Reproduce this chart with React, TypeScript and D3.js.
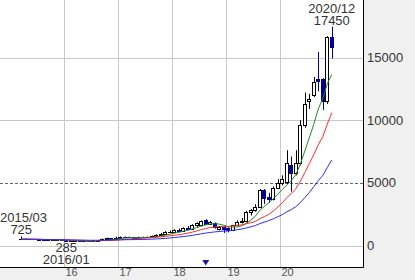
import React from 'react';
import * as d3 from 'd3';

// Monthly candles from 2015/03 to 2020/12
const START_YEAR = 2015;
const START_MONTH = 3;

const open = [
  500, 520, 500, 490, 480, 470, 440, 430, 440, 450,
  420, 330, 340, 360, 350, 360, 340, 370, 420, 520, 560, 520,
  620, 690, 640, 640, 620, 650, 640, 680, 760, 850, 950, 1050,
  1080, 1240, 1150, 1400, 1350, 1600, 1650, 2030, 1700, 1800, 1300, 1450,
  1400, 1200, 1600, 1900, 1950, 2650, 2800, 3100, 4400, 3900, 3700, 4600,
  5000, 5100, 6400, 5800, 6600, 9600, 11500, 12000, 13250, 13250, 11500, 16650,
];
const high = [
  725, 560, 530, 520, 510, 500, 470, 470, 480, 470,
  440, 380, 390, 400, 390, 380, 400, 450, 560, 620, 600, 700,
  720, 720, 700, 680, 700, 700, 720, 800, 900, 1000, 1150, 1200,
  1300, 1350, 1450, 1550, 1700, 1850, 2000, 2100, 1950, 1850, 1550, 1500,
  1450, 1650, 2000, 2200, 2750, 2900, 3300, 4500, 4500, 4200, 4700, 5300,
  5600, 7600, 7100, 7600, 10000, 12200, 12100, 13450, 15450, 13350, 16700, 17450,
];
const low = [
  430, 460, 460, 450, 440, 400, 400, 410, 420, 390,
  285, 300, 320, 330, 330, 310, 330, 350, 400, 490, 480, 500,
  580, 600, 600, 580, 600, 610, 620, 650, 730, 820, 900, 1000,
  1000, 1050, 1100, 1300, 1300, 1450, 1600, 1650, 1650, 1350, 1200, 1000,
  1050, 1200, 1550, 1750, 1850, 2400, 2700, 3000, 3300, 3400, 3600, 4500,
  4800, 4900, 4300, 5600, 6400, 9400, 10900, 11850, 12300, 10800, 11300, 14930,
];
const close = [
  510, 500, 490, 480, 470, 440, 430, 440, 450, 420,
  330, 340, 360, 350, 360, 340, 370, 420, 520, 560, 520, 620,
  690, 640, 640, 620, 650, 640, 680, 760, 850, 950, 1050, 1080,
  1240, 1150, 1400, 1350, 1650, 1800, 1970, 1700, 1850, 1450, 1450, 1300,
  1200, 1600, 1900, 1950, 2650, 2800, 3100, 4400, 3800, 3700, 4600, 5000,
  5300, 6580, 5800, 6600, 9600, 11300, 11650, 13050, 13150, 11550, 16650, 15850,
];

const maPeriods = [6, 12, 24];
const maColors = ['#1f8a1f', '#ff2a2a', '#2a2aff'];

const yTicks = [0, 5000, 10000, 15000];
const dashedTick = 5000;
const yearLabels = ['16', '17', '18', '19', '20'];

const annoHigh1 = { month: '2015/03', value: 725 };
const annoLow = { month: '2016/01', value: 285 };
const annoHigh2 = { month: '2020/12', value: 17450 };
const markerMonth = '2018/08';

const months = open.map((_, i) => {
  const t = START_MONTH - 1 + i;
  const yy = START_YEAR + Math.floor(t / 12);
  const mm = (t % 12) + 1;
  return `${yy}/${String(mm).padStart(2, '0')}`;
});

const W = 415;
const H = 280;
const PLOT_R = 363;
const PLOT_B = 267;
const FONT = 'Liberation Sans, Arial, sans-serif';
const BEAR = '#000099';

export default function App() {
  const offset = (12 * (2016 - START_YEAR)) - (START_MONTH - 1);
  const x = d3.scaleLinear().domain([0, 60]).range([64, 334]);
  const y = d3.scaleLinear().domain([0, 15000]).range([245.5, 57.5]);
  const cx = (i: number) => x(i - offset + 0.5);
  const idx = (m: string) => months.indexOf(m);

  const mas = maPeriods.map((p) =>
    close.map((_, i) => {
      const s = close.slice(Math.max(0, i - p + 1), i + 1);
      return d3.mean(s) as number;
    })
  );

  const line = d3
    .line<number>()
    .x((_, i) => cx(i))
    .y((d) => y(d));

  const crisp = (v: number) => Math.round(v) + 0.5;

  const i1 = idx(annoHigh1.month);
  const i2 = idx(annoLow.month);
  const i3 = idx(annoHigh2.month);
  const im = idx(markerMonth);

  return (
    <svg
      width={W}
      height={H}
      style={{ position: 'fixed', left: 0, top: 0, display: 'block' }}
      fontFamily={FONT}
    >
      <rect x={0} y={0} width={W} height={H} fill="#f0f0f0" />
      <rect x={0} y={0} width={PLOT_R} height={PLOT_B} fill="#ffffff" />

      {yearLabels.map((lab, k) => {
        const xv = crisp(x(k * 12));
        return (
          <g key={lab}>
            <line x1={xv} x2={xv} y1={0} y2={PLOT_B} stroke="#c8c8c8" />
            <text x={xv + 1} y={276} fontSize={11} fill="#555">
              {lab}
            </text>
          </g>
        );
      })}

      {yTicks.map((t) => {
        const yv = crisp(y(t));
        return (
          <g key={t}>
            {t === dashedTick ? (
              <line x1={0} x2={PLOT_R} y1={yv} y2={yv} stroke="#666" strokeDasharray="3,2" />
            ) : (
              <line x1={0} x2={PLOT_R} y1={yv} y2={yv} stroke="#c8c8c8" />
            )}
            <text x={367} y={y(t) + 4.5} fontSize={13} fill="#333">
              {t}
            </text>
          </g>
        );
      })}

      {open.map((o, i) => {
        const c = close[i];
        const bull = c >= o;
        const r = Math.round(cx(i));
        const top = Math.round(y(Math.max(o, c)));
        const bot = Math.round(y(Math.min(o, c)));
        const hy = y(high[i]);
        const ly = y(low[i]);
        const col = bull ? '#000' : BEAR;
        return (
          <g key={i}>
            <line x1={r + 0.5} x2={r + 0.5} y1={hy} y2={ly} stroke={col} />
            {bot - top < 1 ? (
              <line x1={r - 2} x2={r + 2} y1={top + 0.5} y2={top + 0.5} stroke={col} />
            ) : bull ? (
              <rect x={r - 1.5} y={top + 0.5} width={3} height={bot - top} fill="#fff" stroke="#000" />
            ) : (
              <rect x={r - 2} y={top} width={4} height={bot - top + 1} fill={BEAR} />
            )}
          </g>
        );
      })}

      {mas.map((m, k) => (
        <path key={k} d={line(m) || ''} fill="none" stroke={maColors[k]} strokeWidth={1} />
      ))}

      <text x={Math.max(cx(i1), 23.5)} y={221.5} fontSize={13} fill="#333" textAnchor="middle">
        {annoHigh1.month}
      </text>
      <text x={cx(i1)} y={233.5} fontSize={13} fill="#333" textAnchor="middle">
        {annoHigh1.value}
      </text>
      <text x={cx(i2)} y={251.5} fontSize={13} fill="#333" textAnchor="middle">
        {annoLow.value}
      </text>
      <text x={cx(i2)} y={263.5} fontSize={13} fill="#333" textAnchor="middle">
        {annoLow.month}
      </text>
      <text x={cx(i3)} y={12.5} fontSize={13} fill="#333" textAnchor="middle">
        {annoHigh2.month}
      </text>
      <text x={cx(i3)} y={25} fontSize={13} fill="#333" textAnchor="middle">
        {annoHigh2.value}
      </text>

      <path
        d={`M${cx(im) - 3.5},260 L${cx(im) + 3.5},260 L${cx(im)},265.5 Z`}
        fill="#1a1aa0"
      />

      <line x1={0} x2={PLOT_R + 0.5} y1={PLOT_B + 0.5} y2={PLOT_B + 0.5} stroke="#000" />
      <line x1={PLOT_R + 0.5} x2={PLOT_R + 0.5} y1={0} y2={PLOT_B + 0.5} stroke="#000" />
    </svg>
  );
}
